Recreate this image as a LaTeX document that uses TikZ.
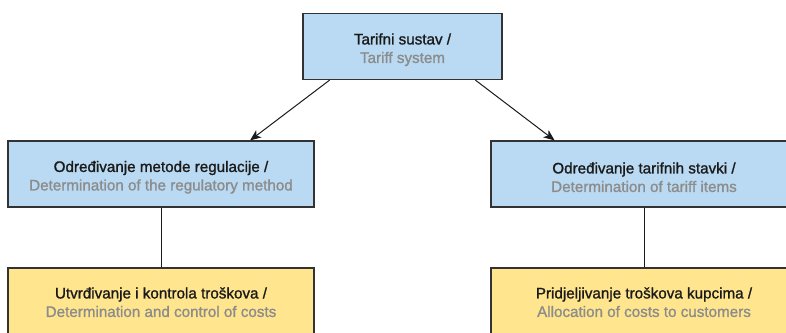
\documentclass[tikz,border=0pt]{standalone}
\usepackage{fontspec}
\setmainfont{Liberation Sans}[FakeBold=1.2]
\usetikzlibrary{arrows.meta,calc}
\definecolor{boxblue}{HTML}{B9DAF2}
\definecolor{boxyellow}{HTML}{FFE68E}
\definecolor{edgegray}{HTML}{333333}
\definecolor{txtgray}{HTML}{8C8C8C}
\definecolor{txtblack}{HTML}{1A1A1A}
\begin{document}
\begin{tikzpicture}[x=1pt,y=-1pt,
  box/.style={draw=edgegray, line width=1.2pt, minimum width=#1, minimum height=66pt, inner sep=0pt, align=center,
    font=\fontsize{15.2}{18.5}\selectfont, text=txtblack, text height=36pt},
  bluebox/.style={box=#1, fill=boxblue},
  yellowbox/.style={box=#1, fill=boxyellow},
  conn/.style={draw=txtblack, line width=1pt},
  arr/.style={conn, -{Stealth[length=11pt,width=9pt,inset=3pt]}}]
\useasboundingbox (0,0) rectangle (786,332);
\node[bluebox=199pt] (top) at (402.5,46.5) {Tarifni sustav /\\ \textcolor{txtgray}{Tariff system}};
\node[bluebox=306pt] (ml) at (161,174) {Određivanje metode regulacije /\\ \textcolor{txtgray}{Determination of the regulatory method}};
\node[bluebox=306pt] (mr) at (644,174) {Određivanje tarifnih stavki /\\ \textcolor{txtgray}{Determination of tariff items}};
\node[yellowbox=306pt, text height=32pt] (bl) at (161,301) {Utvrđivanje i kontrola troškova /\\ \textcolor{txtgray}{Determination and control of costs}};
\node[yellowbox=306pt, text height=32pt] (br) at (644,301) {Pridjeljivanje troškova kupcima /\\ \textcolor{txtgray}{Allocation of costs to customers}};
\coordinate (tl) at ($(top.south west)!0.136!(top.south east)$);
\coordinate (tr) at ($(top.south west)!0.864!(top.south east)$);
\coordinate (mlt) at ($(ml.north west)!0.79!(ml.north east)$);
\coordinate (mrt) at ($(mr.north west)!0.209!(mr.north east)$);
\draw[arr] (tl) -- (mlt);
\draw[arr] (tr) -- (mrt);
\draw[conn] (ml.south) -- (bl.north);
\draw[conn] (mr.south) -- (br.north);
\end{tikzpicture}
\end{document}
